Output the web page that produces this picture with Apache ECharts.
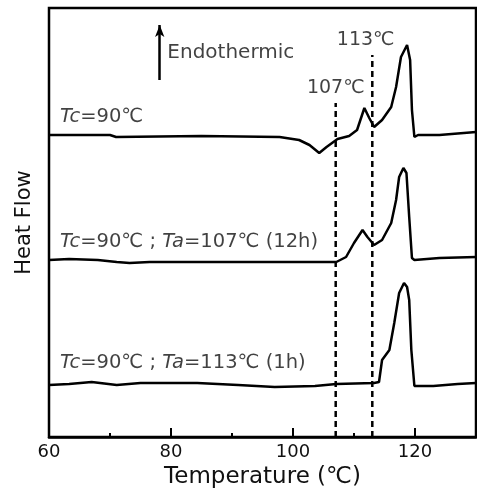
<!DOCTYPE html>
<html>
<head>
<meta charset="utf-8">
<script src="https://cdn.jsdelivr.net/npm/echarts@6/dist/echarts.min.js"></script>
<style>
  html, body { margin: 0; padding: 0; background: #fff; }
  #chart { width: 477px; height: 494px; }
</style>
</head>
<body>
<div id="chart"></div>
<script>
// DSC curves, [temperature, heat flow (arb. units)]
const curveTc90 = [
  [60, 302], [70, 302], [71, 300], [85, 301], [97.8, 300], [101, 297], [102.7, 292],
  [104.3, 284], [105.5, 290], [107.3, 298], [109.2, 301], [110.5, 307], [111.7, 329],
  [112.5, 319], [113.3, 310], [114.6, 317], [116.1, 330], [116.9, 350], [117.7, 380],
  [118.7, 392], [119.2, 377], [119.5, 327], [119.9, 300], [120.5, 302], [124, 302], [130, 305]
];
const curveTa107 = [
  [60, 177], [63.3, 178], [68, 177], [71.1, 175], [73.2, 174], [76.5, 175], [92, 175],
  [107.1, 175], [108.7, 180], [110, 194], [111.4, 207], [112.2, 200], [113.3, 192],
  [114.6, 197], [116.1, 214], [116.9, 237], [117.4, 260], [118.1, 269], [118.6, 264],
  [119.05, 220], [119.5, 179], [119.9, 177], [124, 179], [130, 180]
];
const curveTa113 = [
  [60, 52], [63.3, 53], [67, 55], [71.1, 52], [75, 54], [84.3, 54], [91, 52], [97, 50],
  [103.6, 51], [107.1, 53], [113.3, 54], [114.1, 55], [114.6, 77], [115.8, 87], [116.6, 114],
  [117.4, 144], [118.2, 154], [118.7, 150], [119.05, 137], [119.4, 87], [119.9, 51],
  [123, 51], [127, 53], [130, 54]
];

// reference temperatures (dashed lines) and where they stop at the top
const refTemps = [107, 113];
const refTops = [334, 382];
const refLabels = ['107℃', '113℃'];
const refLabelPos = [[107.0, 349], [111.9, 397]];

// curve labels, anchored at their left edge
const curveLabels = ['{i|Tc}=90℃', '{i|Tc}=90℃ ; {i|Ta}=107℃ (12h)', '{i|Tc}=90℃ ; {i|Ta}=113℃ (1h)'];
const curveLabelPos = [[61.8, 320], [61.8, 195], [61.8, 74]];

// endothermic arrow
const arrowFrom = [78.15, 357];
const arrowTo = [78.15, 412];
const arrowText = 'Endothermic';
const arrowTextPos = [79.4, 384];

const xTickLabels = ['60', '80', '100', '120'];

const font = 'DejaVu Sans';
const ink = '#111';
const chart = echarts.init(document.getElementById('chart'));

function curve(data) {
  return {
    type: 'line', data: data, symbol: 'none', smooth: false,
    lineStyle: { color: '#000', width: 2.5 }, silent: true, z: 3
  };
}

const series = [curve(curveTc90), curve(curveTa107), curve(curveTa113)];

refTemps.forEach((t, i) => {
  series.push({
    type: 'line', data: [[t, 0], [t, refTops[i]]], symbol: 'none',
    lineStyle: { color: '#000', width: 2.5, type: [6, 4] }, silent: true, z: 2
  });
});

// text labels
series.push({
  type: 'scatter', symbolSize: 0, silent: true, z: 4,
  data: curveLabels.map((txt, i) => ({ value: curveLabelPos[i], name: txt })),
  label: {
    show: true, position: 'right', distance: 0,
    formatter: p => p.name,
    fontFamily: font, fontSize: 19.5, color: ink,
    rich: {
      i: { fontStyle: 'italic', fontFamily: font, fontSize: 19.5, color: ink }
    }
  }
});
series.push({
  type: 'scatter', symbolSize: 0, silent: true, z: 4,
  data: [{ value: arrowTextPos, name: arrowText }],
  label: {
    show: true, position: 'right', distance: 0,
    formatter: p => p.name,
    fontFamily: font, fontSize: 20, color: ink
  },
  // arrow
  markLine: {
    silent: true, symbol: ['none', 'arrow'], symbolSize: [7, 12],
    label: { show: false },
    lineStyle: { color: '#000', width: 2.5, type: 'solid' },
    data: [[{ coord: arrowFrom }, { coord: arrowTo }]]
  }
});
series.push({
  type: 'scatter', symbolSize: 0, silent: true, z: 4,
  data: refLabels.map((txt, i) => ({ value: refLabelPos[i], name: txt })),
  label: {
    show: true, position: 'inside',
    formatter: p => p.name,
    fontFamily: font, fontSize: 19, color: ink
  }
});

chart.setOption({
  animation: false,
  grid: {
    left: 49, right: 1, top: 8, bottom: 57,
    outerBoundsMode: 'none',
    show: true, borderColor: '#000', borderWidth: 2.5, backgroundColor: 'transparent'
  },
  xAxis: [
    {
      type: 'value', min: 60, max: 130, interval: 10,
      name: 'Temperature (℃)', nameLocation: 'middle', nameGap: 27,
      nameTextStyle: { fontFamily: font, fontSize: 23, color: ink },
      axisLine: { show: true, lineStyle: { color: '#000', width: 2.5 } },
      axisTick: { show: true, inside: true, length: 4, lineStyle: { color: '#000', width: 2 } },
      axisLabel: {
        margin: 6, fontFamily: font, fontSize: 18, color: ink,
        formatter: v => (xTickLabels.indexOf(String(v)) >= 0 ? String(v) : '')
      },
      splitLine: { show: false }
    },
    {
      type: 'value', min: 60, max: 130, interval: 20, position: 'bottom',
      axisLine: { show: false },
      axisTick: { show: true, inside: true, length: 9, lineStyle: { color: '#000', width: 2 } },
      axisLabel: { show: false },
      splitLine: { show: false }
    }
  ],
  yAxis: {
    type: 'value', min: 0, max: 429,
    name: 'Heat Flow', nameLocation: 'middle', nameGap: 14,
    nameTextStyle: { fontFamily: font, fontSize: 21, color: ink },
    axisLine: { show: false }, axisTick: { show: false },
    axisLabel: { show: false }, splitLine: { show: false }
  },
  series: series
});
</script>
</body>
</html>
